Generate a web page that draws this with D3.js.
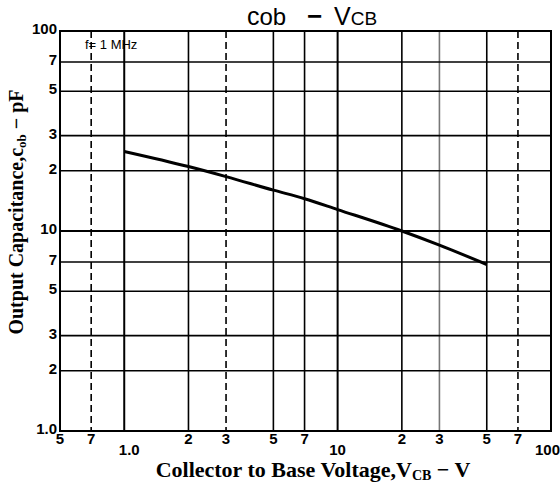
<!DOCTYPE html>
<html>
<head>
<meta charset="utf-8">
<style>
	body{ margin: 0; background: #fff; }
	.tick{ font-family: "Liberation Sans", Arial, sans-serif; font-weight: bold; font-size: 15px; fill: #000; }
	.lab{ font-family: "Liberation Serif", "DejaVu Serif", serif; font-weight: bold; fill: #000; }
</style>
</head>
<body>
<script src="https://d3js.org/d3.v7.min.js"></script>
<script>

	// curve
	var vcb = [1, 2, 3, 5, 7, 10, 20, 30, 50];
	var cob = [25, 21, 18.7, 16, 14.5, 12.8, 10, 8.5, 6.8];

	var xGrid = [0.7, 1, 2, 3, 5, 7, 10, 20, 30, 50, 70];
	var xDashed = [0.7, 3, 70];
	var xGray = [30];
	var yGrid = [2, 3, 5, 7, 10, 20, 30, 50, 70];

	var xTicks = [0.5, 0.7, 1, 2, 3, 5, 7, 10, 20, 30, 50, 70, 100];
	var xTickLabels = ["5", "7", "1.0", "2", "3", "5", "7", "10", "2", "3", "5", "7", "100"];
	var yTicks = [1, 2, 3, 5, 7, 10, 20, 30, 50, 70, 100];
	var yTickLabels = ["1.0", "2", "3", "5", "7", "10", "2", "3", "5", "7", "100"];

	var margin = {top: 31, right: 9, bottom: 53, left: 60},
		width = 560 - margin.left - margin.right,
		height = 484 - margin.top - margin.bottom;

	var x = d3.scaleLog().domain([0.5, 100]).range([0, width]);
	var y = d3.scaleLog().domain([1, 100]).range([height, 0]);

	var svg = d3.select("body").append("svg")
		.attr("width", 560)
		.attr("height", 484);

	var g = svg.append("g")
		.attr("transform", "translate(" + margin.left + "," + margin.top + ")");

	// grid
	g.selectAll(".vgrid")
		.data(xGrid)
		.enter().append("line")
		.attr("x1", function(d){ return x(d); })
		.attr("x2", function(d){ return x(d); })
		.attr("y1", 0)
		.attr("y2", height)
		.attr("stroke", function(d){ return xGray.includes(d) ? "#777" : "#000"; })
		.attr("stroke-width", function(d){ return (d == 1 || d == 10) ? 2 : 1.6; })
		.attr("stroke-dasharray", function(d){ return xDashed.includes(d) ? "7,4" : null; });

	g.selectAll(".hgrid")
		.data(yGrid)
		.enter().append("line")
		.attr("x1", 0)
		.attr("x2", width)
		.attr("y1", function(d){ return y(d); })
		.attr("y2", function(d){ return y(d); })
		.attr("stroke", "#000")
		.attr("stroke-width", function(d){ return d == 10 ? 2 : 1.6; });

	g.append("rect")
		.attr("width", width)
		.attr("height", height)
		.attr("fill", "none")
		.attr("stroke", "#000")
		.attr("stroke-width", 2);

	// curve
	var line = d3.line()
		.x(function(d){ return x(d[0]); })
		.y(function(d){ return y(d[1]); })
		.curve(d3.curveMonotoneX);

	g.append("path")
		.datum(d3.zip(vcb, cob))
		.attr("fill", "none")
		.attr("stroke", "#000")
		.attr("stroke-width", 3)
		.attr("d", line);

	// tick labels
	g.selectAll(".xt")
		.data(xTicks)
		.enter().append("text")
		.attr("class", "tick")
		.attr("text-anchor", function(d){ return d == 100 ? "end" : "middle"; })
		.attr("x", function(d, i){
			if (d == 100) return width + 9;
			return x(d) + (d == 1 ? 5 : 0);
		})
		.attr("y", function(d){ return (d == 1 || d == 10 || d == 100) ? height + 24 : height + 13; })
		.text(function(d, i){ return xTickLabels[i]; });

	g.selectAll(".yt")
		.data(yTicks)
		.enter().append("text")
		.attr("class", "tick")
		.attr("text-anchor", "end")
		.attr("x", -3)
		.attr("y", function(d){ return y(d) + 3; })
		.text(function(d, i){ return yTickLabels[i]; });

	g.append("text")
		.attr("x", 25)
		.attr("y", 18)
		.attr("font-family", "Liberation Sans, Arial, sans-serif")
		.attr("font-size", "13px")
		.text("f= 1 MHz");

	// title
	var title = svg.append("text")
		.attr("x", 247)
		.attr("y", 25)
		.attr("font-family", "Liberation Sans, Arial, sans-serif")
		.attr("font-size", "25px");
	title.append("tspan").text("c");
	title.append("tspan").attr("font-size", "24px").text("ob");
	title.append("tspan").attr("x", 307).attr("font-size", "26px").attr("font-weight", "bold").text("−");
	title.append("tspan").attr("x", 334).text("V");
	title.append("tspan").attr("font-size", "19px").text("CB");

	// axis labels
	var xl = svg.append("text")
		.attr("class", "lab")
		.attr("font-size", "22px")
		.attr("x", 313)
		.attr("y", 477)
		.attr("text-anchor", "middle");
	xl.append("tspan").text("Collector to Base Voltage,V");
	xl.append("tspan").attr("font-size", "14px").attr("dy", 3).text("CB");
	xl.append("tspan").attr("dy", -3).text(" − V");

	var yl = svg.append("text")
		.attr("class", "lab")
		.attr("font-size", "20px")
		.attr("transform", "translate(23,212) rotate(-90)")
		.attr("text-anchor", "middle");
	yl.append("tspan").text("Output Capacitance,c");
	yl.append("tspan").attr("font-size", "13px").attr("dy", 3).text("ob");
	yl.append("tspan").attr("dy", -3).text(" − pF");

</script>
</body>
</html>
